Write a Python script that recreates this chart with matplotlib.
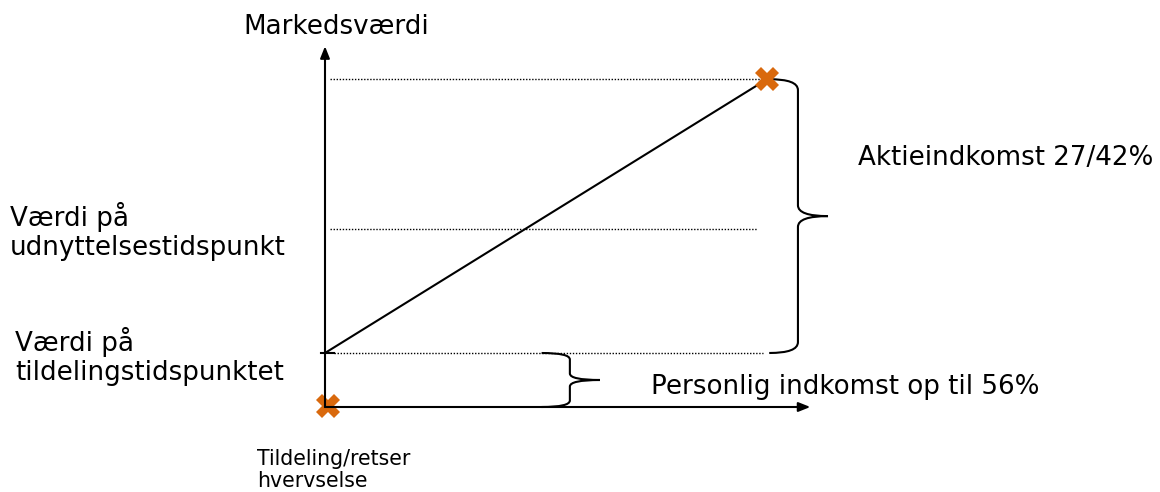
import matplotlib.pyplot as plt
from matplotlib.path import Path
from matplotlib.patches import PathPatch

# time axis: 0 = tildeling, 1 = udnyttelse
t_grant = 0.0
t_exercise = 1.0
# market value levels
v_base = 0.0
v_grant = 10.0
v_mid = 33.0
v_exercise = 60.7

orange = '#D9690D'


def brace(ax, x_end, x_line, x_tip, y_low, y_high, r):
    y_mid = (y_low + y_high) / 2
    verts = [(x_end, y_high), (x_line, y_high), (x_line, y_high - r),
             (x_line, y_mid + r), (x_line, y_mid), (x_tip, y_mid),
             (x_line, y_mid), (x_line, y_mid - r),
             (x_line, y_low + r), (x_line, y_low), (x_end, y_low)]
    codes = [Path.MOVETO, Path.CURVE3, Path.CURVE3,
             Path.LINETO, Path.CURVE3, Path.CURVE3,
             Path.CURVE3, Path.CURVE3,
             Path.LINETO, Path.CURVE3, Path.CURVE3]
    ax.add_patch(PathPatch(Path(verts, codes), fill=False, lw=1.5, color='black'))


fig = plt.figure(figsize=(11.6, 4.92), dpi=100)
ax = fig.add_axes([0, 0, 1, 1])
ax.set_xlim(-325 / 442, (1160 - 325) / 442)
ax.set_ylim(-85 / 5.4, 407 / 5.4)
ax.axis('off')

arrow = dict(arrowstyle='-|>,head_length=0.7,head_width=0.28', lw=1.5, color='black',
             shrinkA=0, shrinkB=0)
ax.annotate('', xy=(t_grant, 66.8), xytext=(t_grant, v_base), arrowprops=arrow)
ax.annotate('', xy=(1.098, v_base), xytext=(t_grant, v_base), arrowprops=arrow)

# dotted reference lines
dots = dict(color='black', lw=1.0, dashes=(1, 1.2))
ax.plot([0.012, 0.995], [v_exercise, v_exercise], **dots)
ax.plot([0.012, 0.977], [v_mid, v_mid], **dots)
ax.plot([0.02, 0.99], [v_grant, v_grant], **dots)
ax.plot([-0.01, 0.02], [v_grant, v_grant], '-', color='black', lw=1.5)

# value development
ax.plot([t_grant, t_exercise], [v_grant, v_exercise], color='black', lw=1.5)

# braces
brace(ax, 1.005, 1.07, 1.138, v_grant, v_exercise, 2.0)
brace(ax, 0.49, 0.554, 0.622, v_base, v_grant, 1.2)

# markers
ax.plot([t_grant + 0.007, t_exercise], [v_base + 0.2, v_exercise], 'X', color=orange,
        markersize=17, markeredgewidth=0)

fs = 18.8
fig.text(243 / 1160, 1 - 27 / 492, 'Markedsværdi', fontsize=fs, va='center', ha='left')
fig.text(10 / 1160, 1 - 231 / 492, 'Værdi på\nudnyttelsestidspunkt', fontsize=fs,
         va='center', ha='left', linespacing=1.15)
fig.text(15 / 1160, 1 - 356 / 492, 'Værdi på\ntildelingstidspunktet', fontsize=fs,
         va='center', ha='left', linespacing=1.15)
fig.text(858 / 1160, 1 - 158 / 492, 'Aktieindkomst 27/42%', fontsize=fs, va='center', ha='left')
fig.text(651 / 1160, 1 - 387 / 492, 'Personlig indkomst op til 56%', fontsize=fs,
         va='center', ha='left')
fig.text(257 / 1160, 1 - 470 / 492, 'Tildeling/retser\nhvervselse', fontsize=14.8,
         va='center', ha='left', linespacing=1.15)

fig.savefig('out.png', dpi=100)
